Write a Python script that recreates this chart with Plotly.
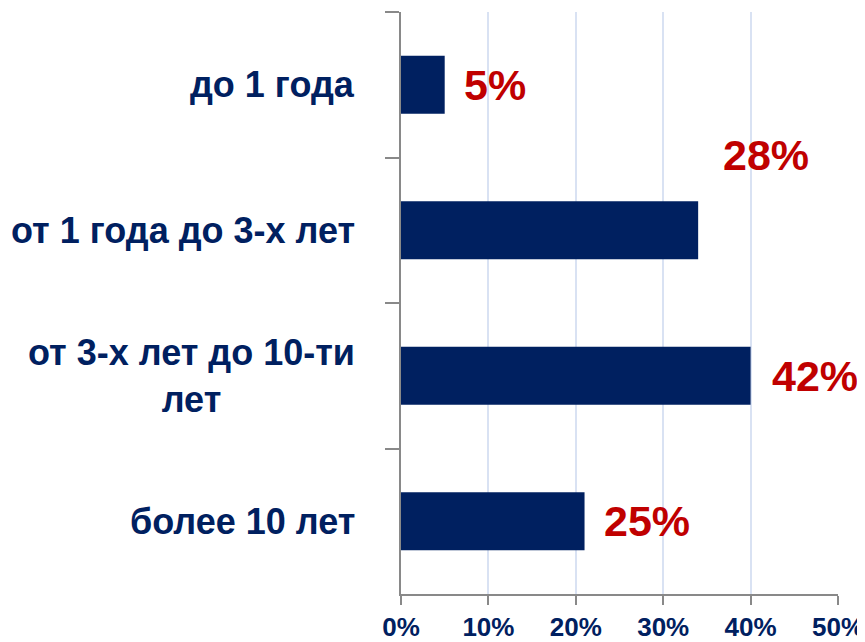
import plotly.graph_objects as go

# ---- data ----
categories = ["до 1 года", "от 1 года до 3-х лет", "от 3-х лет до 10-ти лет", "более 10 лет"]
category_labels = ["до 1 года", "от 1 года до 3-х лет", "от 3-х лет до 10-ти<br>лет", "более 10 лет"]
bar_values = [5, 34, 40, 21]
label_texts = ["5%", "28%", "42%", "25%"]
x_ticks = [0, 10, 20, 30, 40, 50]
x_tick_labels = ["0%", "10%", "20%", "30%", "40%", "50%"]

# ---- styles ----
NAVY = "#002060"
RED = "#C00000"
GRID = "#D9E2F3"
AXIS = "#898989"
label_xshift = [17, 23, 19, 17]
label_yshift = [0, 75, 0, 0]

fig = go.Figure()
fig.add_trace(go.Bar(
    x=bar_values, y=categories, orientation="h",
    marker=dict(color=NAVY, line=dict(width=0)),
    width=0.4, hoverinfo="skip",
))

# value labels
for c, v, t, dx, dy in zip(categories, bar_values, label_texts, label_xshift, label_yshift):
    fig.add_annotation(
        x=v, y=c, xref="x", yref="y", text=t, showarrow=False,
        xanchor="left", yanchor="middle", xshift=dx, yshift=dy,
        font=dict(family="Liberation Sans, Arial, sans-serif", size=43, color=RED, weight="bold"),
    )

# category labels
for c, lab in zip(categories, category_labels):
    fig.add_annotation(
        x=0, y=c, xref="paper", yref="y", text=lab, showarrow=False,
        xanchor="right", yanchor="middle", xshift=-44, align="center",
        font=dict(family="Liberation Sans, Arial, sans-serif",
                  size=36, color=NAVY, weight="bold"),
    )

fig.update_layout(
    width=865, height=642,
    margin=dict(l=393, r=35, t=4, b=56, autoexpand=False),
    paper_bgcolor="white", plot_bgcolor="white",
    showlegend=False,
    bargap=0.6,
    xaxis=dict(
        range=[0, 50], tickvals=x_ticks, ticktext=x_tick_labels,
        showgrid=True, gridcolor=GRID, gridwidth=2,
        showline=True, linecolor=AXIS, linewidth=2,
        ticks="outside", ticklen=9, tickwidth=2, tickcolor=AXIS,
        zeroline=False, automargin=False,
        tickfont=dict(family="Liberation Sans, Arial, sans-serif", size=26, color=NAVY, weight="bold"),
        fixedrange=True,
    ),
    yaxis=dict(
        categoryorder="array", categoryarray=categories, autorange="reversed",
        showticklabels=False, showgrid=False, automargin=False,
        showline=True, linecolor=AXIS, linewidth=2,
        ticks="outside", tickson="boundaries", ticklen=14, tickwidth=2, tickcolor=AXIS,
        fixedrange=True,
    ),
)

fig.write_html("out.html")
